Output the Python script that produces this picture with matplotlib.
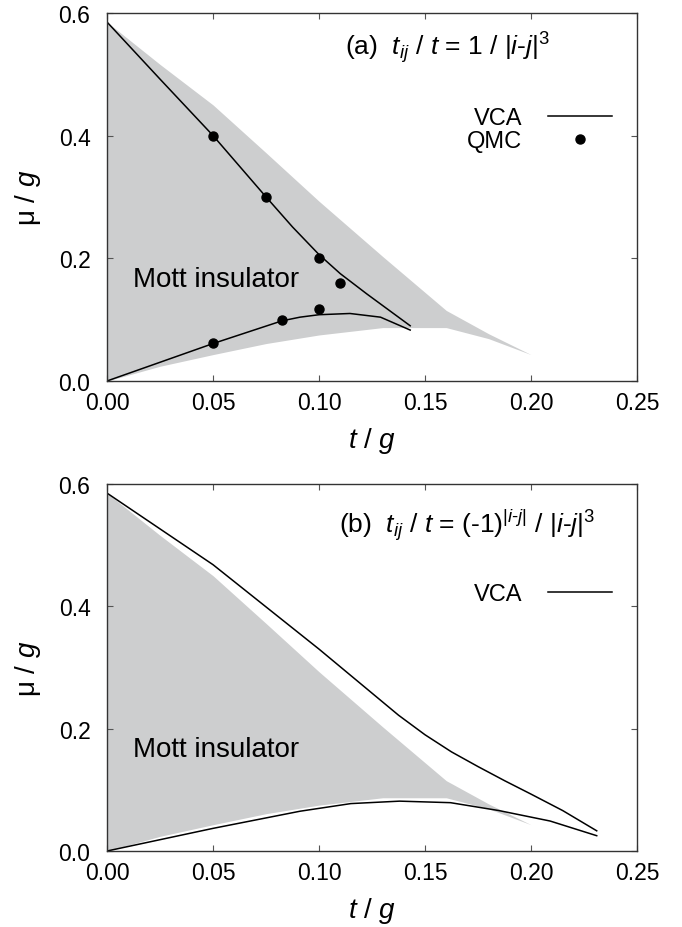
import matplotlib
matplotlib.use("Agg")
import matplotlib.pyplot as plt

plt.rcParams["font.family"] = ["Liberation Sans", "DejaVu Sans"]
plt.rcParams["mathtext.fontset"] = "custom"
plt.rcParams["mathtext.rm"] = "Liberation Sans"
plt.rcParams["mathtext.it"] = "Liberation Sans:italic"
plt.rcParams["mathtext.bf"] = "Liberation Sans:bold"

# shaded Mott region (same in both panels)
gray_t = [0.0, 0.025, 0.05, 0.075, 0.10, 0.115, 0.13, 0.16, 0.18, 0.20]
gray_upper = [0.585, 0.516, 0.450, 0.372, 0.293, 0.248, 0.203, 0.115, 0.077, 0.043]
gray_lower = [0.0, 0.024, 0.043, 0.061, 0.075, 0.081, 0.087, 0.087, 0.069, 0.043]

# panel (a): VCA boundaries + QMC points
a_up_t = [0.0, 0.025, 0.05, 0.075, 0.0875, 0.10, 0.11, 0.1225, 0.143]
a_up_mu = [0.585, 0.492, 0.400, 0.300, 0.251, 0.206, 0.175, 0.142, 0.090]
a_lo_t = [0.0, 0.05, 0.0825, 0.091, 0.10, 0.1146, 0.129, 0.143]
a_lo_mu = [0.0, 0.061, 0.098, 0.104, 0.108, 0.110, 0.104, 0.083]
qmc_t = [0.05, 0.075, 0.10, 0.11, 0.05, 0.0825, 0.10]
qmc_mu = [0.40, 0.30, 0.20, 0.16, 0.062, 0.10, 0.117]

# panel (b): VCA boundaries
b_up_t = [0.0, 0.05, 0.10, 0.125, 0.1375, 0.15, 0.1625, 0.175, 0.1875, 0.20, 0.215, 0.231]
b_up_mu = [0.585, 0.468, 0.330, 0.258, 0.222, 0.190, 0.162, 0.138, 0.115, 0.093, 0.066, 0.033]
b_lo_t = [0.0, 0.05, 0.091, 0.115, 0.138, 0.162, 0.185, 0.209, 0.231]
b_lo_mu = [0.0, 0.037, 0.065, 0.0775, 0.0815, 0.079, 0.066, 0.049, 0.025]

XTICKS = [0.0, 0.05, 0.10, 0.15, 0.20, 0.25]
YTICKS = [0.0, 0.2, 0.4, 0.6]
GRAY = "#cdcecf"
TICK_FS = 16.5

fig = plt.figure(figsize=(6.82, 9.28), dpi=100)
ax_a = fig.add_axes([0.157, 0.5884, 0.777, 0.3966])
ax_b = fig.add_axes([0.157, 0.0819, 0.777, 0.3955])


def style_axes(ax):
    ax.set_xlim(0, 0.25)
    ax.set_ylim(0, 0.6)
    ax.set_xticks(XTICKS)
    ax.set_xticklabels([f"{v:.2f}" for v in XTICKS])
    ax.set_yticks(YTICKS)
    ax.set_yticklabels([f"{v:.1f}" for v in YTICKS])
    ax.tick_params(direction="in", top=True, right=True, length=4, width=0.8,
                   color="#555555", labelsize=TICK_FS, pad=7)
    ax.tick_params(axis="y", pad=12)
    for sp in ax.spines.values():
        sp.set_color("#333333")
        sp.set_linewidth(1.0)
    ax.set_xlabel(r"$t$ / $g$", fontsize=20, labelpad=8)
    ax.set_ylabel(r"μ / $g$", fontsize=20, labelpad=11)
    ax.fill_between(gray_t, gray_lower, gray_upper, color=GRAY, lw=0, zorder=0)
    ax.text(0.0123, 0.166, "Mott insulator", fontsize=20, va="center", ha="left")


style_axes(ax_a)
ax_a.plot(a_up_t, a_up_mu, color="black", lw=1.1, label="VCA")
ax_a.plot(a_lo_t, a_lo_mu, color="black", lw=1.1)
ax_a.plot(qmc_t, qmc_mu, "o", color="black", ms=6.5, label="QMC")
ax_a.text(0.449, 0.908, r"(a)  $t_{ij}$ / $t$ = 1 / $|i$-$j|^{3}$",
          transform=ax_a.transAxes, fontsize=19, va="center", ha="left")
ax_a.legend(loc="upper right", bbox_to_anchor=(0.953, 0.745), frameon=False,
            markerfirst=False, fontsize=17, handlelength=2.7, handletextpad=1.1,
            borderpad=0, borderaxespad=0, labelspacing=0.05)

style_axes(ax_b)
ax_b.plot(b_up_t, b_up_mu, color="black", lw=1.1, label="VCA")
ax_b.plot(b_lo_t, b_lo_mu, color="black", lw=1.1)
ax_b.text(0.438, 0.891, r"(b)  $t_{ij}$ / $t$ = (-1)$^{|i\text{-}j|}$ / $|i$-$j|^{3}$",
          transform=ax_b.transAxes, fontsize=19, va="center", ha="left")
ax_b.legend(loc="upper right", bbox_to_anchor=(0.953, 0.73), frameon=False,
            markerfirst=False, fontsize=17, handlelength=2.7, handletextpad=1.1,
            borderpad=0, borderaxespad=0)

fig.savefig("out.png", dpi=100)
